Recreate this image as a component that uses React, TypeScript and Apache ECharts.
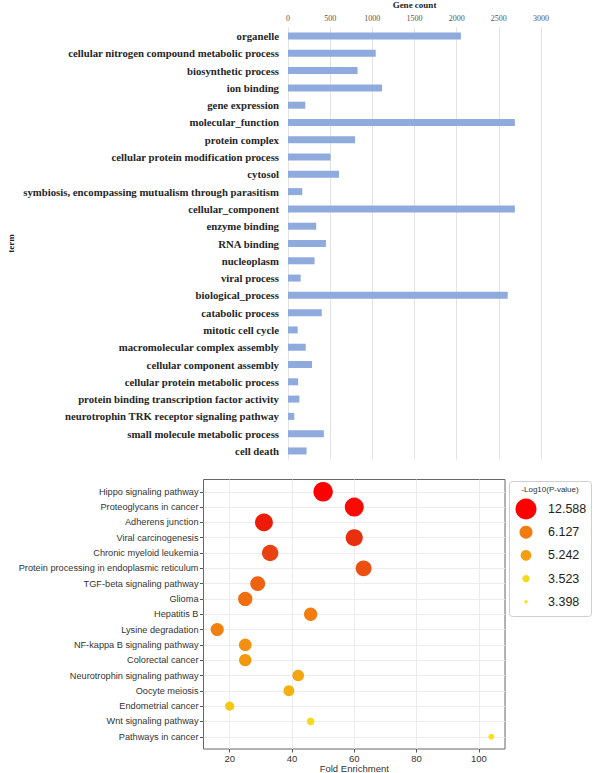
import React, { useEffect, useRef } from "react";
import * as echarts from "echarts";

// ---- Top chart data (GO terms) ----
const goTerms = [
  "organelle",
  "cellular nitrogen compound metabolic process",
  "biosynthetic process",
  "ion binding",
  "gene expression",
  "molecular_function",
  "protein complex",
  "cellular protein modification process",
  "cytosol",
  "symbiosis, encompassing mutualism through parasitism",
  "cellular_component",
  "enzyme binding",
  "RNA binding",
  "nucleoplasm",
  "viral process",
  "biological_process",
  "catabolic process",
  "mitotic cell cycle",
  "macromolecular complex assembly",
  "cellular component assembly",
  "cellular protein metabolic process",
  "protein binding transcription factor activity",
  "neurotrophin TRK receptor signaling pathway",
  "small molecule metabolic process",
  "cell death",
];
const geneCounts = [
  2050, 1040, 825, 1115, 205, 2690, 795, 505, 605, 170, 2690, 335, 450, 315,
  150, 2605, 400, 115, 210, 285, 120, 135, 75, 425, 220,
];
const geneCountTicks = [0, 500, 1000, 1500, 2000, 2500, 3000];

// ---- Bottom chart data (KEGG pathways) ----
const pathways = [
  "Hippo signaling pathway",
  "Proteoglycans in cancer",
  "Adherens junction",
  "Viral carcinogenesis",
  "Chronic myeloid leukemia",
  "Protein processing in endoplasmic reticulum",
  "TGF-beta signaling pathway",
  "Glioma",
  "Hepatitis B",
  "Lysine degradation",
  "NF-kappa B signaling pathway",
  "Colorectal cancer",
  "Neurotrophin signaling pathway",
  "Oocyte meiosis",
  "Endometrial cancer",
  "Wnt signaling pathway",
  "Pathways in cancer",
];
const foldEnrichment = [
  50, 60, 31, 60, 33, 63, 29, 25, 46, 16, 25, 25, 42, 39, 20, 46, 104,
];
const negLog10P = [
  12.588, 11.8, 10.5, 9.6, 8.9, 8.3, 7.4, 6.9, 6.127, 5.95, 5.6, 5.45, 5.0,
  4.6, 3.9, 3.523, 3.398,
];
const foldTicks = [20, 40, 60, 80, 100];
const legendValues = [12.588, 6.127, 5.242, 3.523, 3.398];

// ---- encodings ----
const colorStops: [number, number[]][] = [
  [3.398, [245, 224, 26]],
  [3.9, [245, 200, 16]],
  [5.0, [244, 166, 18]],
  [5.5, [243, 148, 16]],
  [6.0, [242, 126, 15]],
  [7.0, [239, 108, 15]],
  [8.3, [235, 80, 18]],
  [9.6, [232, 48, 15]],
  [10.5, [238, 26, 10]],
  [12.588, [255, 0, 0]],
];
function pColor(v: number): string {
  if (v <= colorStops[0][0]) return `rgb(${colorStops[0][1].join(",")})`;
  for (let i = 1; i < colorStops.length; i++) {
    const [v1, c1] = colorStops[i];
    const [v0, c0] = colorStops[i - 1];
    if (v <= v1) {
      const t = (v - v0) / (v1 - v0);
      const c = c0.map((x, k) => Math.round(x + (c1[k] - x) * t));
      return `rgb(${c.join(",")})`;
    }
  }
  return `rgb(${colorStops[colorStops.length - 1][1].join(",")})`;
}
function pSize(v: number): number {
  return 6 + 4.45 * Math.sqrt(Math.max(0, v - 3.398));
}
const legendSizes = [21, 13, 10.7, 7.3, 3.3];

const fMin = Math.min(...foldEnrichment);
const fMax = Math.max(...foldEnrichment);
const fPad = (fMax - fMin) * 0.05;
const yPad = (pathways.length - 1) * 0.05;

const serif = "'Liberation Serif', 'Times New Roman', serif";
const sans = "'Liberation Sans', Arial, sans-serif";

export default function App() {
  const ref = useRef<HTMLDivElement>(null);
  useEffect(() => {
    if (!ref.current) return;
    const chart = echarts.init(ref.current, undefined, { renderer: "svg" });
    const idx = pathways.map((_, i) => i);
    const legendTop = 509;
    const legendStep = 23.2;
    const legendGraphics: any[] = [
      {
        type: "rect",
        shape: { x: 509.5, y: 481.5, width: 82, height: 135, r: 3 },
        style: { fill: "#fff", stroke: "#cfcfcf", lineWidth: 1 },
        z: 10,
      },
      {
        type: "text",
        x: 550,
        y: 489,
        style: {
          text: "-Log10(P-value)",
          fontSize: 8,
          fontFamily: sans,
          fill: "#333",
          align: "center",
          verticalAlign: "middle",
        },
        z: 11,
      },
    ];
    legendValues.forEach((v, i) => {
      const cy = legendTop + i * legendStep;
      legendGraphics.push({
        type: "circle",
        shape: { cx: 526, cy, r: legendSizes[i] / 2 },
        style: { fill: pColor(v) },
        z: 11,
      });
      legendGraphics.push({
        type: "text",
        x: 548,
        y: cy,
        style: {
          text: v.toFixed(3),
          fontSize: 12.5,
          fontFamily: sans,
          fill: "#222",
          verticalAlign: "middle",
        },
        z: 11,
      });
    });

    chart.setOption({
      animation: false,
      backgroundColor: "#fff",
      grid: [
        {
          left: 288,
          right: 52,
          top: 27.4,
          height: 432.2,
          outerBoundsMode: "none",
          containLabel: false,
        },
        {
          left: 203.5,
          right: 88,
          top: 479.5,
          height: 269.5,
          show: true,
          borderColor: "#666",
          borderWidth: 1,
          backgroundColor: "transparent",
          outerBoundsMode: "none",
          containLabel: false,
        },
      ],
      xAxis: [
        {
          gridIndex: 0,
          type: "value",
          position: "top",
          min: geneCountTicks[0],
          max: geneCountTicks[geneCountTicks.length - 1],
          interval: geneCountTicks[1] - geneCountTicks[0],
          name: "Gene count",
          nameLocation: "middle",
          nameGap: 16,
          nameTextStyle: {
            fontFamily: serif,
            fontWeight: "bold",
            fontSize: 9,
            color: "#222",
          },
          axisLine: { show: false, onZero: false },
          axisTick: { show: false },
          axisLabel: {
            fontFamily: serif,
            fontSize: 8,
            color: "#555555",
            margin: 5,
            formatter: (v: number) => String(v),
          },
          splitLine: { show: true, lineStyle: { color: "#e3e3e3", width: 1 } },
        },
        {
          gridIndex: 1,
          type: "value",
          min: fMin - fPad,
          max: fMax + fPad,
          name: "Fold Enrichment",
          nameLocation: "middle",
          nameGap: 14,
          nameTextStyle: { fontFamily: sans, fontSize: 9.5, color: "#333" },
          axisLine: { show: false, onZero: false },
          axisTick: {
            show: true,
            length: 3.5,
            customValues: foldTicks,
            lineStyle: { color: "#555" },
          },
          axisLabel: {
            customValues: foldTicks,
            fontFamily: sans,
            fontSize: 9.5,
            color: "#333",
            margin: 4,
          },
          splitLine: { show: true, lineStyle: { color: "#ececec", width: 1 } },
        },
      ],
      yAxis: [
        {
          gridIndex: 0,
          type: "category",
          data: goTerms,
          inverse: true,
          name: "term",
          nameLocation: "middle",
          nameRotate: 90,
          nameGap: 273,
          nameTextStyle: {
            fontFamily: serif,
            fontWeight: "bold",
            fontSize: 9,
            color: "#222",
          },
          axisLine: { show: false, onZero: false },
          axisTick: { show: false },
          axisLabel: {
            fontFamily: serif,
            fontWeight: "bold",
            fontSize: 10.75,
            color: "#262626",
            margin: 9,
          },
        },
        {
          gridIndex: 1,
          type: "value",
          inverse: true,
          min: -yPad,
          max: pathways.length - 1 + yPad,
          axisLine: { show: false, onZero: false },
          axisTick: {
            show: true,
            length: 3.5,
            customValues: idx,
            lineStyle: { color: "#555" },
          },
          axisLabel: {
            customValues: idx,
            formatter: (v: number) => pathways[Math.round(v)] ?? "",
            fontFamily: sans,
            fontSize: 9.2,
            color: "#333",
            margin: 5,
          },
          splitLine: { show: true, lineStyle: { color: "#ececec", width: 1 } },
        },
      ],
      series: [
        {
          type: "bar",
          xAxisIndex: 0,
          yAxisIndex: 0,
          data: geneCounts,
          barWidth: 7,
          itemStyle: { color: "#8faadc" },
        },
        {
          type: "scatter",
          xAxisIndex: 1,
          yAxisIndex: 1,
          data: foldEnrichment.map((f, i) => [f, i, negLog10P[i]]),
          symbol: "circle",
          symbolSize: (d: number[]) => pSize(d[2]),
          itemStyle: {
            color: (p: any) => pColor(p.data[2]),
            opacity: 1,
          },
        },
      ],
      graphic: legendGraphics,
    });
    return () => chart.dispose();
  }, []);
  return (
    <div
      ref={ref}
      style={{ position: "fixed", left: 0, top: 0, width: 593, height: 773 }}
    />
  );
}
